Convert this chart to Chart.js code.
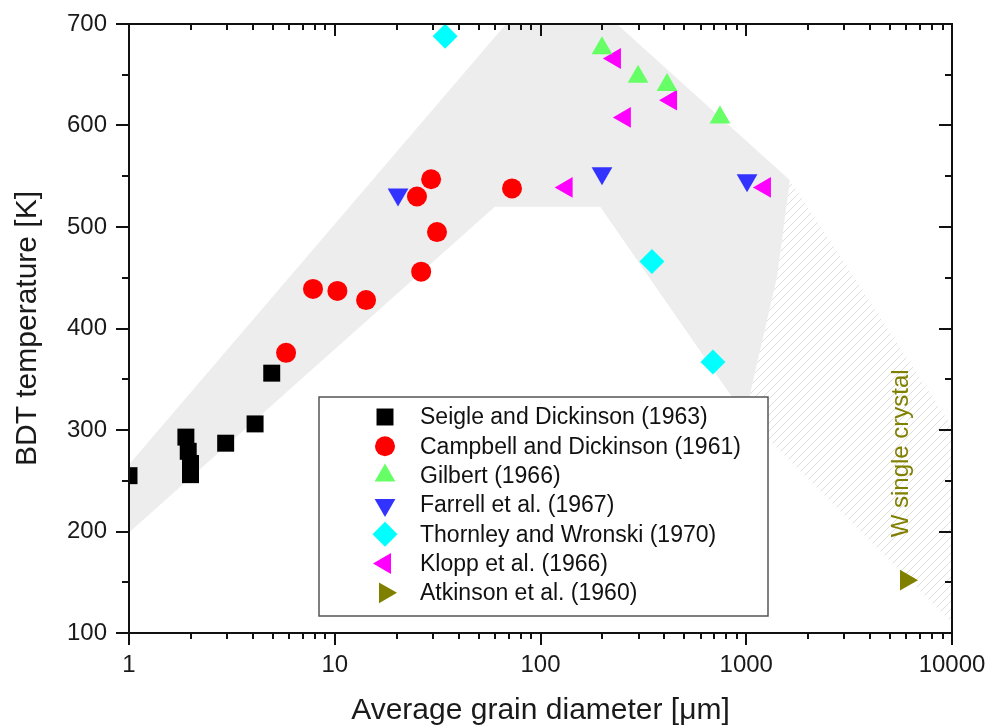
<!DOCTYPE html>
<html>
<head>
<meta charset="utf-8">
<title>BDT temperature vs grain diameter</title>
<script src="https://cdn.jsdelivr.net/npm/chart.js@4.4.0/dist/chart.umd.min.js"></script>
<style>
  html, body { margin: 0; padding: 0; background: #fff; }
</style>
</head>
<body>
<canvas id="bdtChart" width="989" height="727"></canvas>
<script>
// grain diameter [um] / BDT temperature [K] per source
const seigleX = [1.0, 1.89, 1.94, 1.99, 1.99, 2.95, 4.1, 4.94];
const seigleY = [255, 293, 279, 267, 256, 287, 306, 356];

const campbellX = [5.8, 7.84, 10.3, 14.2, 26.3, 31.4, 25.1, 29.4, 72.7];
const campbellY = [376, 439, 437, 428, 456, 495, 530, 547, 538];

const gilbertX = [199, 298, 412, 745];
const gilbertY = [676, 648, 640, 608];

const farrellX = [20.3, 199, 1009];
const farrellY = [532, 553, 546];

const thornleyX = [34.4, 348, 689];
const thornleyY = [688, 466, 367];

const kloppX = [230, 431, 257, 134, 1233];
const kloppY = [666, 625, 608, 539, 539];

const atkinsonX = [5975];
const atkinsonY = [152];

// polycrystal scatter band (grey) and single-crystal band (hatched)
const bandX = [1, 68, 235, 1630, 1411, 986, 195, 60, 1];
const bandY = [266, 700, 700, 546, 451, 314, 520, 520, 199];
const hatchX = [1630, 10000, 10000, 986, 1411];
const hatchY = [546, 303, 110, 314, 451];

const xTickValues = [1, 10, 100, 1000, 10000];
const yTickValues = [100, 200, 300, 400, 500, 600, 700];

const FONT = "'Liberation Sans', Arial, sans-serif";
Chart.defaults.font.family = FONT;

const pts = (xs, ys) => xs.map((x, i) => ({ x, y: ys[i] }));

function hatchPattern() {
  const n = 8;
  const c = document.createElement("canvas");
  c.width = n;
  c.height = n;
  const g = c.getContext("2d");
  g.strokeStyle = "#dedede";
  g.lineWidth = 1;
  g.beginPath();
  g.moveTo(0, n); g.lineTo(n, 0);
  g.moveTo(-1, 1); g.lineTo(1, -1);
  g.moveTo(n - 1, n + 1); g.lineTo(n + 1, n - 1);
  g.stroke();
  return g.createPattern(c, "repeat");
}

function series(label, xs, ys, color, style, radius, rotation) {
  return {
    label,
    data: pts(xs, ys),
    backgroundColor: color,
    borderColor: color,
    pointStyle: style,
    pointRadius: radius,
    pointRotation: rotation || 0,
    pointBorderWidth: 0,
    clip: 0,
    order: 1
  };
}

function area(xs, ys, fill) {
  return {
    data: pts(xs, ys),
    showLine: true,
    fill: "shape",
    backgroundColor: fill,
    borderColor: "rgba(0,0,0,0)",
    borderWidth: 1,
    pointRadius: 0,
    tension: 0,
    clip: 0,
    order: 10
  };
}

// box, tick marks on all four sides
const frameAndTicks = {
  id: "frameAndTicks",
  afterDatasetsDraw(chart) {
    const { ctx, chartArea: a, scales: { x, y } } = chart;
    ctx.save();
    ctx.strokeStyle = "#111";
    ctx.lineWidth = 2;
    ctx.strokeRect(a.left, a.top, a.right - a.left, a.bottom - a.top);
    ctx.beginPath();
    for (let v = yTickValues[0]; v <= yTickValues[yTickValues.length - 1]; v += 50) {
      const py = Math.round(y.getPixelForValue(v));
      const len = v % 100 === 0 ? 13 : 7;
      ctx.moveTo(a.left - len, py); ctx.lineTo(a.left, py);
      ctx.moveTo(a.right, py); ctx.lineTo(a.right - len, py);
    }
    xTickValues.forEach(d => {
      for (let k = 1; k < 10; k++) {
        const v = d * k;
        if (v > x.max) break;
        const px = Math.round(x.getPixelForValue(v));
        const len = k === 1 ? 12 : 6;
        ctx.moveTo(px, a.bottom); ctx.lineTo(px, a.bottom + len);
        ctx.moveTo(px, a.top); ctx.lineTo(px, a.top + len);
      }
    });
    ctx.stroke();

    // single crystal note
    ctx.translate(x.getPixelForValue(5700), y.getPixelForValue(277));
    ctx.rotate(-Math.PI / 2);
    ctx.fillStyle = "#808000";
    ctx.font = "24px " + FONT;
    ctx.textAlign = "center";
    ctx.textBaseline = "middle";
    ctx.fillText("W single crystal", 0, 0);
    ctx.restore();
  }
};

const boxLegend = {
  id: "boxLegend",
  afterDraw(chart) {
    const { ctx } = chart;
    const left = 319, top = 397, w = 449, h = 219;
    ctx.save();
    ctx.fillStyle = "#fff";
    ctx.fillRect(left, top, w, h);
    ctx.strokeStyle = "#555";
    ctx.lineWidth = 1.5;
    ctx.strokeRect(left, top, w, h);
    chart.data.datasets.filter(ds => ds.label).forEach((ds, i) => {
      const cy = top + 20 + i * 29.3;
      ctx.fillStyle = ds.backgroundColor;
      ctx.strokeStyle = ds.backgroundColor;
      Chart.helpers.drawPoint(ctx, {
        pointStyle: ds.pointStyle,
        rotation: ds.pointRotation,
        radius: ds.pointRadius,
        borderWidth: 0
      }, 385, cy);
      ctx.fillStyle = "#111";
      ctx.font = "23px " + FONT;
      ctx.textAlign = "left";
      ctx.textBaseline = "middle";
      ctx.fillText(ds.label, 420, cy + 1);
    });
    ctx.restore();
  }
};

new Chart(document.getElementById("bdtChart"), {
  type: "scatter",
  data: {
    datasets: [
      series("Seigle and Dickinson (1963)", seigleX, seigleY, "#000000", "rect", 12),
      series("Campbell and Dickinson (1961)", campbellX, campbellY, "#ff0000", "circle", 10),
      series("Gilbert (1966)", gilbertX, gilbertY, "#66ff66", "triangle", 12),
      series("Farrell et al. (1967)", farrellX, farrellY, "#3333ff", "triangle", 12, 180),
      series("Thornley and Wronski (1970)", thornleyX, thornleyY, "#00ffff", "rectRot", 12.5),
      series("Klopp et al. (1966)", kloppX, kloppY, "#ff00ff", "triangle", 12, 270),
      series("Atkinson et al. (1960)", atkinsonX, atkinsonY, "#808000", "triangle", 12, 90),
      area(bandX, bandY, "#ededed"),
      area(hatchX, hatchY, hatchPattern())
    ]
  },
  options: {
    responsive: false,
    animation: false,
    events: [],
    layout: { padding: { top: 24, right: 37, left: 0, bottom: 0 } },
    plugins: {
      legend: { display: false },
      tooltip: { enabled: false }
    },
    scales: {
      x: {
        type: "logarithmic",
        min: 1,
        max: 10000,
        afterBuildTicks: s => { s.ticks = xTickValues.map(v => ({ value: v })); },
        afterFit: s => {
          s.height = 94;
          s.paddingLeft = 0;
          s.paddingRight = 0;
        },
        grid: { display: false, drawTicks: false },
        border: { display: false },
        ticks: {
          autoSkip: false,
          maxRotation: 0,
          padding: 18,
          color: "#1a1a1a",
          font: { size: 24 },
          callback: v => String(v)
        },
        title: {
          display: true,
          text: "Average grain diameter [μm]",
          color: "#1a1a1a",
          font: { size: 30, lineHeight: 1 },
          padding: { top: 0, bottom: 1 }
        }
      },
      y: {
        min: 100,
        max: 700,
        afterBuildTicks: s => { s.ticks = yTickValues.map(v => ({ value: v })); },
        afterFit: s => {
          s.width = 129;
          s.paddingTop = 0;
          s.paddingBottom = 0;
        },
        grid: { display: false, drawTicks: false },
        border: { display: false },
        ticks: {
          padding: 22,
          color: "#1a1a1a",
          font: { size: 24 }
        },
        title: {
          display: true,
          text: "BDT temperature [K]",
          color: "#1a1a1a",
          font: { size: 30, lineHeight: 1 },
          padding: { top: 13, bottom: 0 }
        }
      }
    }
  },
  plugins: [frameAndTicks, boxLegend]
});
</script>
</body>
</html>
